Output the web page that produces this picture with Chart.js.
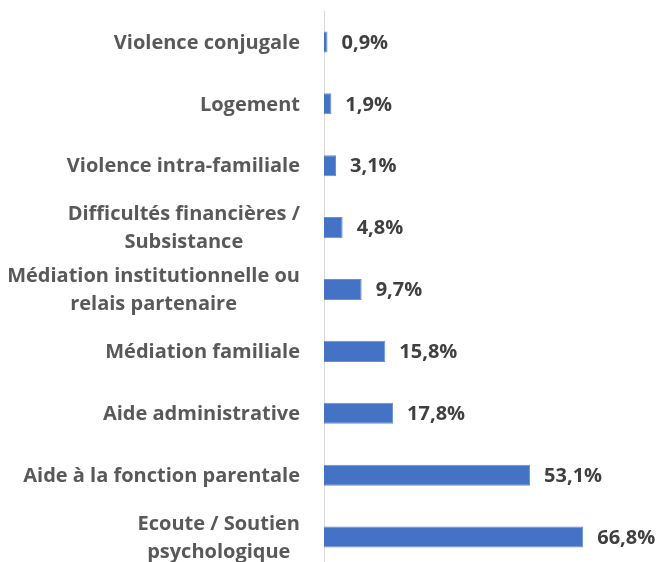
<!DOCTYPE html>
<html>
<head>
<meta charset="utf-8">
<script src="https://cdn.jsdelivr.net/npm/chart.js@4"></script>
<style>
  html, body { margin: 0; padding: 0; background: #fff; overflow: hidden; }
  #wrap { position: relative; width: 658px; height: 572px; }
</style>
</head>
<body>
<div id="wrap"><canvas id="bar-chart"></canvas></div>
<script>
const categories = [
  ['Violence conjugale'],
  ['Logement'],
  ['Violence intra-familiale'],
  ['Difficultés financières /', 'Subsistance'],
  ['Médiation institutionnelle ou', 'relais partenaire'],
  ['Médiation familiale'],
  ['Aide administrative'],
  ['Aide à la fonction parentale'],
  ['Ecoute / Soutien', 'psychologique']
];
const percents = [0.9, 1.9, 3.1, 4.8, 9.7, 15.8, 17.8, 53.1, 66.8];

const FONT = '"Open Sans", sans-serif';
const LINE_H = 28;

// category names, each line centred on the block, block right-aligned
const categoryLabels = {
  id: 'categoryLabels',
  afterDraw(chart) {
    const ctx = chart.ctx;
    const yScale = chart.scales.y;
    const right = chart.chartArea.left - 24;
    ctx.save();
    ctx.font = 'bold 20px ' + FONT;
    ctx.fillStyle = '#595959';
    ctx.textAlign = 'center';
    ctx.textBaseline = 'middle';
    categories.forEach((lines, i) => {
      const w = Math.max(...lines.map(l => ctx.measureText(l).width));
      const cx = right - w / 2;
      const y0 = yScale.getPixelForTick(i) + 1 - (lines.length - 1) * LINE_H / 2;
      lines.forEach((l, k) => ctx.fillText(l, cx, y0 + k * LINE_H));
    });
    ctx.restore();
  }
};

// percentage after each bar
const valueLabels = {
  id: 'valueLabels',
  afterDatasetsDraw(chart) {
    const ctx = chart.ctx;
    const meta = chart.getDatasetMeta(0);
    ctx.save();
    ctx.font = 'bold 20px ' + FONT;
    ctx.fillStyle = '#404040';
    ctx.textAlign = 'left';
    ctx.textBaseline = 'middle';
    meta.data.forEach((bar, i) => {
      const txt = percents[i].toFixed(1).replace('.', ',') + '%';
      ctx.fillText(txt, bar.x + 14, bar.y + 1);
    });
    ctx.restore();
  }
};

new Chart(document.getElementById('bar-chart'), {
  type: 'bar',
  data: {
    labels: categories,
    datasets: [{
      data: percents,
      backgroundColor: '#4472C4',
      borderColor: '#6a8fd2',
      borderWidth: 1,
      barPercentage: 0.68,
      categoryPercentage: 0.5
    }]
  },
  options: {
    indexAxis: 'y',
    responsive: true,
    maintainAspectRatio: false,
    animation: false,
    layout: { padding: { top: 11, bottom: 4, right: 8 } },
    plugins: { legend: { display: false }, tooltip: { enabled: false } },
    scales: {
      x: {
        min: 0,
        max: 84,
        display: false
      },
      y: {
        grid: { display: false },
        border: { color: '#d9d9d9', width: 1 },
        ticks: { display: false },
        afterFit(scale) { scale.width = 324; }
      }
    }
  },
  plugins: [categoryLabels, valueLabels]
});
</script>
</body>
</html>
